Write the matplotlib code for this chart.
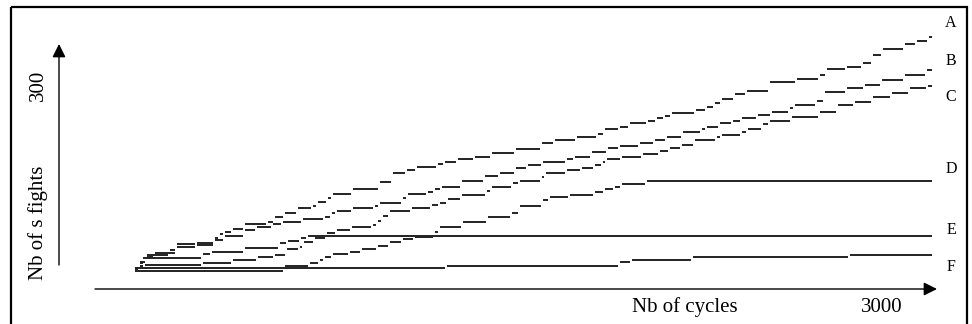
import matplotlib
matplotlib.use('Agg')
import matplotlib.pyplot as plt
from matplotlib.patches import Rectangle

# ---------------- data (cycles, number of fights) ----------------
x_end = 3200

A_x = [0, 20, 32, 48, 141, 169, 249, 321, 341, 361, 394, 442, 534, 562, 602, 655, 715, 735, 775, 795,
       876, 984, 1036, 1092, 1133, 1217, 1245, 1297, 1365, 1434, 1530, 1635, 1687, 1775, 1859, 1888,
       1948, 1988, 2060, 2096, 2128, 2157, 2253, 2297, 2329, 2357, 2410, 2458, 2550, 2659, 2751, 2779,
       2859, 2924, 2964, 3004, 3092, 3141, 3189]
A_y = [3, 11, 19, 24, 32, 42, 44, 52, 58, 61, 66, 74, 77, 85, 92, 100, 103, 110, 116, 123,
       131, 142, 156, 161, 166, 171, 174, 179, 182, 189, 195, 205, 210, 215, 219, 227,
       231, 237, 240, 245, 248, 253, 258, 263, 269, 276, 284, 289, 303, 308, 315, 324,
       327, 334, 347, 356, 365, 369, 376]

B_x = [0, 20, 48, 80, 169, 249, 321, 361, 442, 490, 554, 594, 675, 763, 791, 811, 876, 964, 984, 1076,
       1096, 1177, 1205, 1233, 1313, 1406, 1466, 1530, 1578, 1639, 1735, 1767, 1835, 1900, 1948, 2028,
       2088, 2137, 2201, 2277, 2297, 2349, 2402, 2438, 2502, 2558, 2630, 2651, 2739, 2771, 2859, 2932,
       3000, 3092, 3181]
B_y = [3, 13, 21, 27, 37, 40, 48, 55, 65, 69, 74, 77, 82, 85, 92, 95, 100, 103, 108, 116,
       123, 126, 131, 134, 144, 152, 156, 165, 169, 174, 179, 182, 190, 197, 200, 205,
       210, 215, 223, 227, 231, 237, 240, 245, 250, 255, 261, 266, 273, 287, 294, 298,
       306, 315, 323]

C_x = [0, 20, 40, 273, 394, 494, 562, 610, 663, 679, 723, 771, 811, 871, 956, 976, 996, 1024, 1112,
       1193, 1225, 1257, 1313, 1414, 1434, 1518, 1546, 1635, 1651, 1735, 1795, 1847, 1880, 1896, 1956,
       2040, 2108, 2149, 2197, 2249, 2337, 2357, 2438, 2462, 2522, 2550, 2639, 2751, 2823, 2892, 2964,
       3040, 3112, 3185]
C_y = [1, 6, 8, 11, 16, 21, 24, 34, 37, 45, 52, 60, 65, 69, 73, 79, 87, 95, 100,
       105, 108, 115, 121, 127, 134, 140, 144, 150, 156, 161, 165, 169, 174, 179, 182,
       187, 192, 197, 202, 210, 215, 218, 223, 227, 235, 240, 247, 255, 266, 271, 279,
       285, 294, 297]

D_x = [0, 602, 703, 743, 763, 795, 863, 912, 976, 1024, 1076, 1124, 1205, 1225, 1317, 1418, 1514,
       1546, 1639, 1667, 1747, 1847, 1888, 1928, 1956, 2056]
D_y = [-1, 6, 11, 16, 21, 26, 29, 34, 39, 45, 50, 53, 61, 69, 77, 85, 92,
       103, 113, 118, 121, 126, 131, 134, 139, 144]

E_x = [0, 20, 40, 273, 309, 442, 582, 614, 667, 695]
E_y = [3, 11, 19, 26, 29, 35, 44, 47, 52, 55]

F_x = [8, 1253, 1948, 1996, 2241, 2871]
F_y = [3, 6, 13, 16, 21, 24]

series = {'A': (A_x, A_y), 'B': (B_x, B_y), 'C': (C_x, C_y),
          'D': (D_x, D_y), 'E': (E_x, E_y), 'F': (F_x, F_y)}

# ---------------- figure ----------------
W, H, DPI = 972, 324, 100
plt.rcParams['font.family'] = ['Liberation Serif', 'DejaVu Serif']

fig = plt.figure(figsize=(W / DPI, H / DPI), dpi=DPI)
fig.patch.set_facecolor('white')

# data axes (whole figure)
ax = fig.add_axes([0, 0, 1, 1])
ax.set_xlim(-542, 3361)
ax.set_ylim(-87.1, 435.5)
ax.axis('off')

gap = 7
for name, (xs, ys) in series.items():
    ends = list(xs[1:]) + [x_end]
    xmax = [e - gap if i < len(xs) - 1 else e for i, e in enumerate(ends)]
    ax.hlines(ys, xs, xmax, colors='#222222', linewidth=1.4)

# overlay in pixel coordinates for frame, arrows and labels
ov = fig.add_axes([0, 0, 1, 1], facecolor='none')
ov.set_xlim(0, W)
ov.set_ylim(H, 0)
ov.axis('off')

ov.add_patch(Rectangle((11, 7), 956, 330, fill=False, edgecolor='black', linewidth=1.6))

arrow_kw = dict(arrowstyle='-|>', color='black', lw=1.0, mutation_scale=20,
                shrinkA=0, shrinkB=0)
ov.annotate('', xy=(59, 44), xytext=(59, 265), arrowprops=arrow_kw)
ov.annotate('', xy=(937, 289), xytext=(95, 289), arrowprops=arrow_kw)

ov.text(43, 223, 'Nb of s fights', rotation=90, rotation_mode='anchor',
        ha='center', va='baseline', fontsize=15)
ov.text(43, 85, '300', rotation=90, rotation_mode='anchor',
        ha='center', va='baseline', fontsize=15)
ov.text(685, 312, 'Nb of cycles', ha='center', va='baseline', fontsize=15)
ov.text(882, 312, '3000', ha='center', va='baseline', fontsize=15)

label_y = {'A': 23, 'B': 61, 'C': 97, 'D': 169, 'E': 230, 'F': 267}
for name in series:
    ov.text(951, label_y[name], name, ha='center', va='center', fontsize=11.5)

fig.savefig('out.png', dpi=DPI, facecolor='white')
